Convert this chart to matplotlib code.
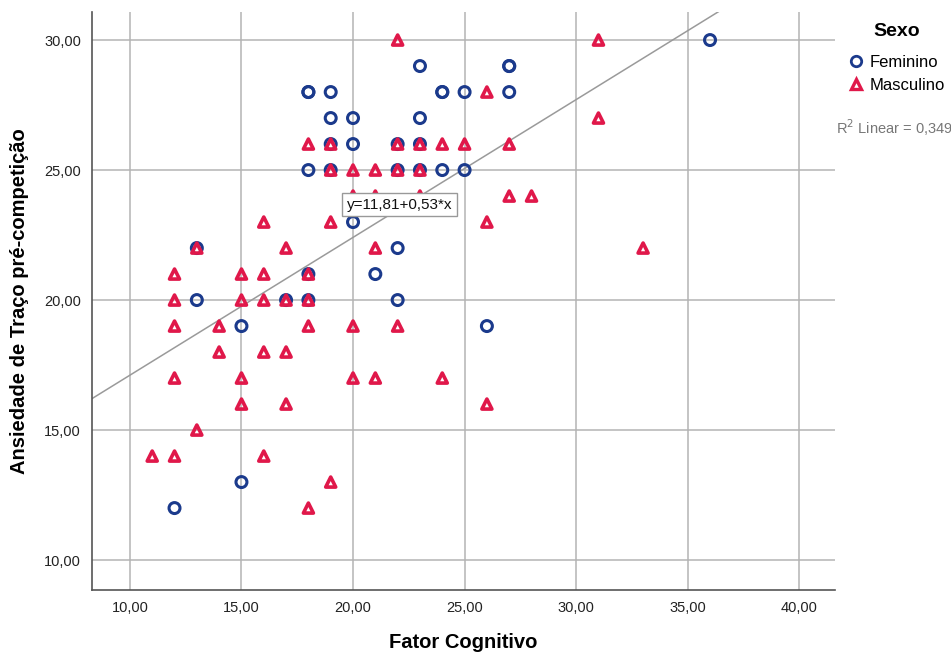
import matplotlib
matplotlib.use("Agg")
import matplotlib.pyplot as plt
from matplotlib.lines import Line2D

plt.rcParams['font.family'] = ['Liberation Sans', 'DejaVu Sans']

# Data: Fator Cognitivo (x) vs Ansiedade de Traço pré-competição (y)
fem_x = [36, 23, 27, 27, 18, 18, 19, 24, 24, 25, 27, 19, 20, 23, 19, 20, 22, 23,
         18, 19, 22, 23, 24, 25, 20, 13, 22, 18, 21, 13, 17, 18, 22, 15, 26, 15, 12]
fem_y = [30, 29, 29, 29, 28, 28, 28, 28, 28, 28, 28, 27, 27, 27, 26, 26, 26, 26,
         25, 25, 25, 25, 25, 25, 23, 22, 22, 21, 21, 20, 20, 20, 20, 19, 19, 13, 12]

mas_x = [22, 31, 26, 31, 18, 19, 22, 23, 24, 25, 27, 19, 20, 21, 22, 23,
         20, 21, 23, 27, 28, 16, 19, 26, 13, 17, 21, 33, 12, 15, 16, 18,
         12, 15, 16, 17, 18, 12, 14, 18, 20, 22, 14, 16, 17, 12, 15, 20, 21, 24,
         15, 17, 26, 13, 11, 12, 16, 19, 18]
mas_y = [30, 30, 28, 27, 26, 26, 26, 26, 26, 26, 26, 25, 25, 25, 25, 25,
         24, 24, 24, 24, 24, 23, 23, 23, 22, 22, 22, 22, 21, 21, 21, 21,
         20, 20, 20, 20, 20, 19, 19, 19, 19, 19, 18, 18, 18, 17, 17, 17, 17, 17,
         16, 16, 16, 15, 14, 14, 14, 13, 12]

fit_intercept = 11.81
fit_slope = 0.53
r2 = "0,349"

x_ticks = [10, 15, 20, 25, 30, 35, 40]
y_ticks = [10, 15, 20, 25, 30]

navy = '#1b3a8c'
red = '#e0184a'

fig = plt.figure(figsize=(9.51, 6.54), dpi=100)
ax = fig.add_axes([0.0967, 0.0979, 0.878 - 0.0967, 0.9817 - 0.0979])
ax.set_xlim(8.3, 41.6)
ax.set_ylim(8.85, 31.08)

ax.set_xticks(x_ticks)
ax.set_yticks(y_ticks)
ax.set_xticklabels([f"{v:.2f}".replace('.', ',') for v in x_ticks], fontsize=10.5, color='#222222')
ax.set_yticklabels([f"{v:.2f}".replace('.', ',') for v in y_ticks], fontsize=10.5, color='#222222')
ax.tick_params(length=0, pad=8)
ax.grid(True, color='#b4b4b4', linewidth=1.1)
ax.set_axisbelow(True)
for s in ['top', 'right']:
    ax.spines[s].set_visible(False)
for s in ['left', 'bottom']:
    ax.spines[s].set_color('#555555')
    ax.spines[s].set_linewidth(1.2)

# regression line
xs = [8.3, 41.6]
ax.plot(xs, [fit_intercept + fit_slope * v for v in xs], color='#9a9a9a', linewidth=1.1, zorder=2)

ax.scatter(fem_x, fem_y, s=62, facecolors='none', edgecolors=navy, linewidths=2.2, marker='o', zorder=3)
ax.scatter(mas_x, mas_y, s=52, facecolors='none', edgecolors=red, linewidths=2.6, marker='^', zorder=4)

ax.text(19.72, 23.67, f"y={fit_intercept:.2f}+{fit_slope:.2f}*x".replace('.', ','),
        fontsize=11, va='center', ha='left', color='#111111', zorder=6,
        bbox=dict(boxstyle='square,pad=0.3', facecolor='white', edgecolor='#999999', linewidth=1))

ax.set_xlabel("Fator Cognitivo", fontsize=14.5, fontweight='bold', va='center')
ax.xaxis.set_label_coords(0.5, (590 - 643) / 578)
ax.set_ylabel("Ansiedade de Traço pré-competição", fontsize=14.5, fontweight='bold', va='center')
ax.yaxis.set_label_coords((20 - 92) / 743, 0.5)

# legend
fig.text(897 / 951, 1 - 32 / 654, "Sexo", fontsize=14, fontweight='bold', ha='center', va='center')
handles = [Line2D([], [], linestyle='none', marker='o', markersize=7.5, markerfacecolor='none',
                  markeredgecolor=navy, markeredgewidth=2),
           Line2D([], [], linestyle='none', marker='^', markersize=7, markerfacecolor='none',
                  markeredgecolor=red, markeredgewidth=2.4)]
fig.legend(handles, ["Feminino", "Masculino"], loc='upper left', bbox_to_anchor=(848 / 951, 1 - 55 / 654),
           frameon=False, fontsize=12, handlelength=0.9, handletextpad=0.4, labelspacing=0.45,
           borderpad=0, borderaxespad=0)
fig.text(836 / 951, 1 - 128 / 654, "R$^2$ Linear = " + r2, fontsize=10.5, color='#777777', ha='left', va='center')

fig.savefig("out.png", dpi=100)
